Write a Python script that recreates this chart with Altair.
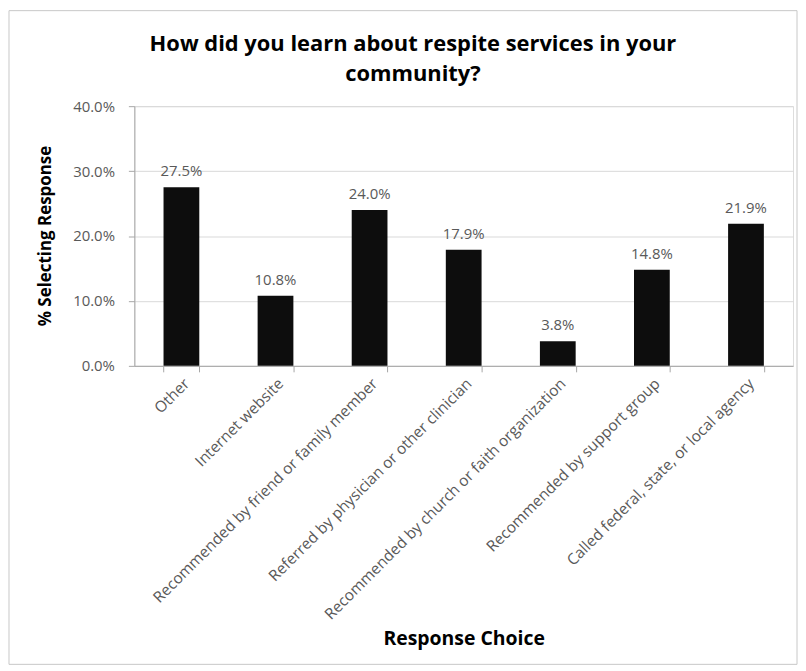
import altair as alt
import pandas as pd

categories = [
    "Other",
    "Internet website",
    "Recommended by friend or family member",
    "Referred by physician or other clinician",
    "Recommended by church or faith organization",
    "Recommended by support group",
    "Called federal, state, or local agency",
]
percent_selecting = [27.5, 10.8, 24.0, 17.9, 3.8, 14.8, 21.9]
y_tick_values = [0.0, 0.1, 0.2, 0.3, 0.4]
title_lines = ["How did you learn about respite services in your", "community?"]

df = pd.DataFrame({"choice": categories, "share": [p / 100 for p in percent_selecting]})
frame_df = pd.DataFrame({"frame": [0]})

FONT = "Open Sans"
GRAY = "#595959"
AXIS_GRAY = "#a6a6a6"
W, H = 662, 261

x_enc = alt.X(
    "choice:N",
    sort=categories,
    title="Response Choice",
    scale=alt.Scale(paddingInner=0.62, paddingOuter=0.31),
    axis=alt.Axis(
        labelAngle=-45,
        labelFont=FONT,
        labelFontSize=15.5,
        labelColor=GRAY,
        labelPadding=4,
        labelLimit=0,
        tickBand="extent",
        tickSize=6,
        tickColor=AXIS_GRAY,
        domainColor=AXIS_GRAY,
        titleFont=FONT,
        titleFontSize=19.5,
        titleFontWeight="bold",
        titleColor="#000000",
        titleY=274,
        titleBaseline="middle",
    ),
)
y_enc = alt.Y(
    "share:Q",
    title="% Selecting Response",
    scale=alt.Scale(domain=[0, 0.4], nice=False),
    axis=alt.Axis(
        values=y_tick_values,
        format=".1%",
        labelFont=FONT,
        labelFontSize=15,
        labelColor=GRAY,
        labelPadding=14,
        tickSize=6,
        tickColor=AXIS_GRAY,
        domainColor=AXIS_GRAY,
        grid=True,
        gridColor="#d9d9d9",
        titleFont=FONT,
        titleFontSize=17,
        titleFontWeight="bold",
        titleColor="#000000",
        titleX=-89,
        titleY=130,
        titleAlign="center",
        titleBaseline="middle",
    ),
)

bars = alt.Chart(df).mark_bar(color="#0d0d0d").encode(x=x_enc, y=y_enc)
labels = alt.Chart(df).mark_text(
    dy=-8, baseline="bottom", font=FONT, fontSize=15, color=GRAY
).encode(
    x=alt.X("choice:N", sort=categories),
    y="share:Q",
    text=alt.Text("share:Q", format=".1%"),
)
frame = alt.Chart(frame_df).mark_rect(
    fillOpacity=0, stroke="#c8c8c8", strokeWidth=1
).encode(
    x=alt.value(-126), x2=alt.value(666), y=alt.value(-96), y2=alt.value(561)
)

chart = (
    alt.layer(frame, bars, labels)
    .properties(
        width=W,
        height=H,
        padding=0,
        title=alt.TitleParams(
            title_lines,
            font=FONT,
            fontSize=22,
            fontWeight="bold",
            color="#000000",
            anchor="middle",
            frame="group",
            dx=-51,
            offset=-76,
            lineHeight=30,
        ),
    )
    .configure_view(stroke=None)
    .configure(background="white")
)

chart.save("out.html", embed_options={"renderer": "svg", "actions": False})
